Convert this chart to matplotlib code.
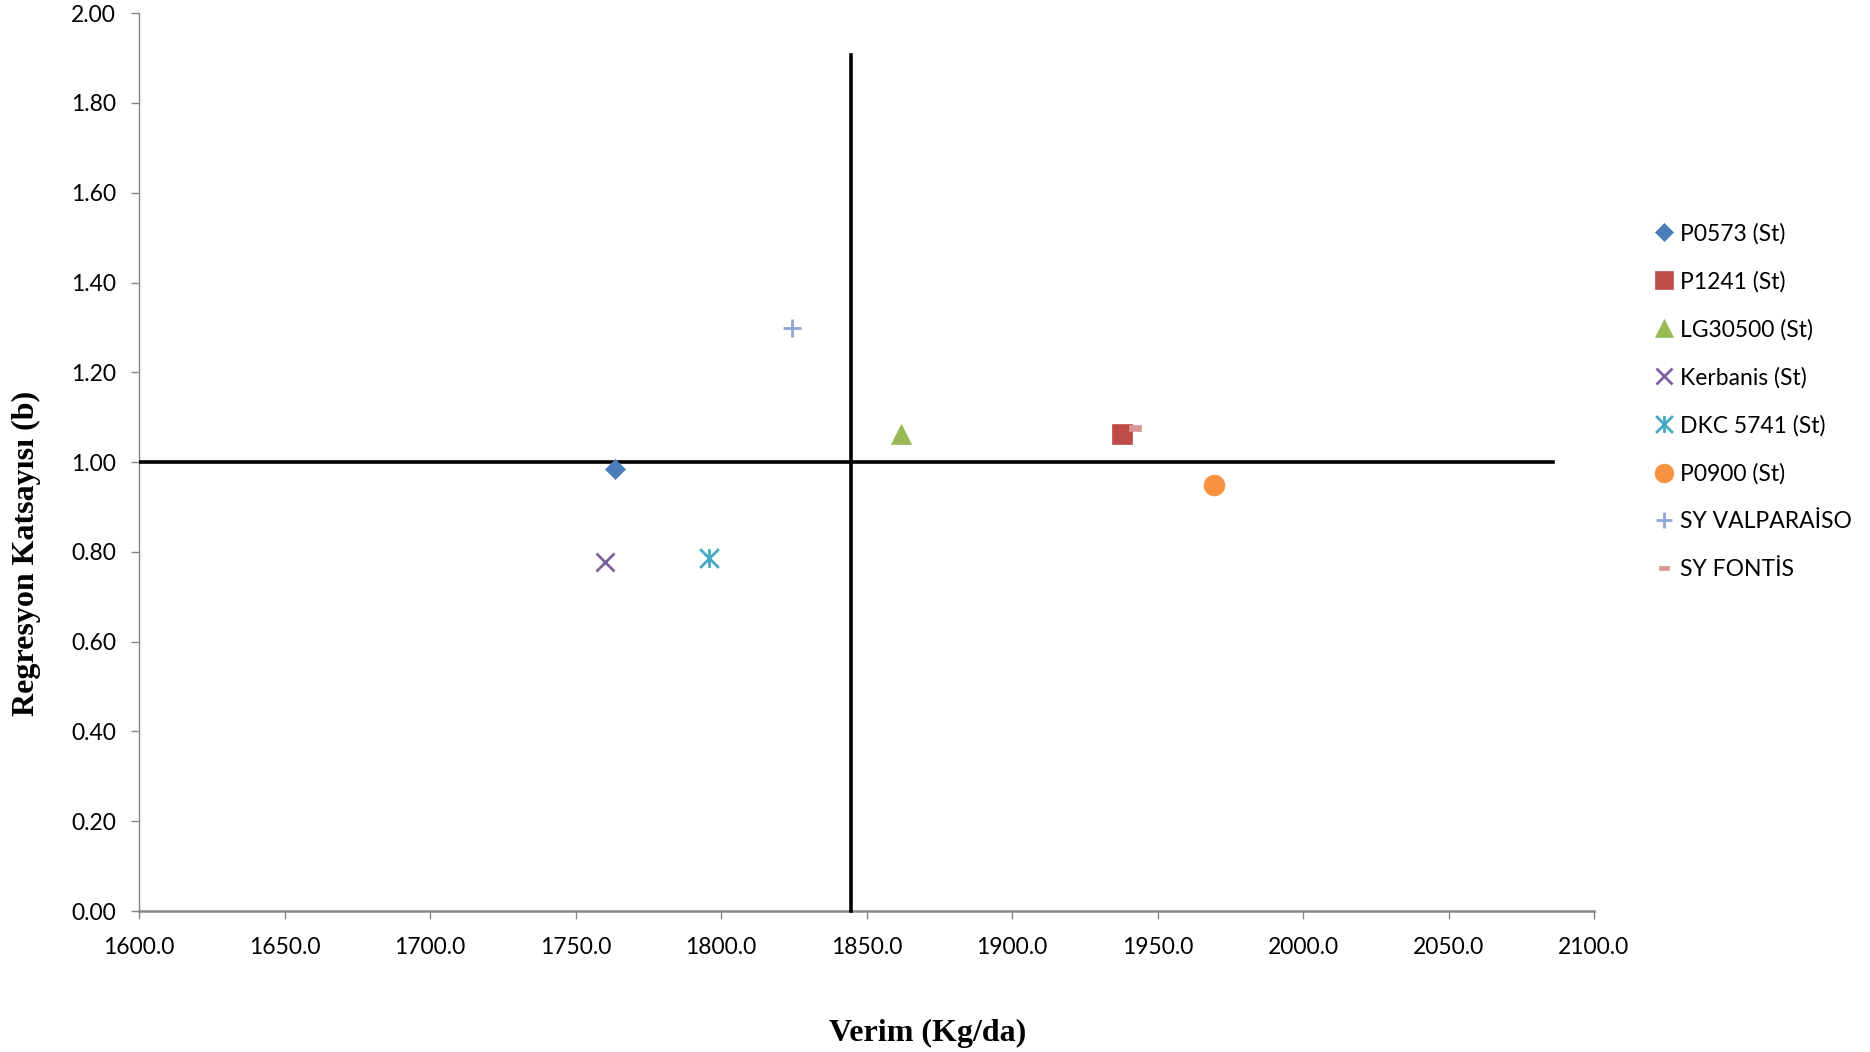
import matplotlib
matplotlib.use('Agg')
import matplotlib.pyplot as plt
from matplotlib.path import Path

# Datos
genotipos = ['P0573 (St)', 'P1241 (St)', 'LG30500 (St)', 'Kerbanis (St)',
             'DKC 5741 (St)', 'P0900 (St)', 'SY VALPARAİSO', 'SY FONTİS']
verim = [1763.4, 1937.8, 1861.7, 1760.1, 1795.7, 1969.4, 1824.4, 1942.3]
regresyon_b = [0.985, 1.062, 1.062, 0.778, 0.786, 0.948, 1.299, 1.076]

# Líneas de referencia (media del verim y b = 1)
media_verim = 1844.5
linea_v_y = [0.0, 1.907]
linea_h_x = [1600.0, 2086.0]
linea_h_y = 1.0

colores = ['#4A7EBB', '#BE4B48', '#98B954', '#7D60A0',
           '#46AAC5', '#F69240', '#8EA5D5', '#DA9694']

# Marcadores tipo Excel
estrella = Path([(0, -1), (0, 1), (-1, -1), (1, 1), (-1, 1), (1, -1)],
                [Path.MOVETO, Path.LINETO, Path.MOVETO, Path.LINETO,
                 Path.MOVETO, Path.LINETO])
guion = Path([(-1, -0.45), (1, -0.45), (1, 0.45), (-1, 0.45), (-1, -0.45)],
             [Path.MOVETO, Path.LINETO, Path.LINETO, Path.LINETO, Path.CLOSEPOLY])
marcadores = ['D', 's', '^', 'x', estrella, 'o', '+', guion]
tamanos = [10.5, 15, 14.5, 13, 13.5, 15, 13, 8.5]
rellenos = [True, True, True, False, False, True, False, True]

fig = plt.figure(figsize=(18.7, 10.52), dpi=100)
ax = fig.add_axes([0.0744, 0.134, 0.778, 0.8535])

for g, x, y, c, m, s, f in zip(genotipos, verim, regresyon_b, colores,
                               marcadores, tamanos, rellenos):
    ax.plot([x], [y], linestyle='none', marker=m, markersize=s,
            color=c, markeredgecolor=c, markeredgewidth=2 if not f else 0.5,
            label=g, zorder=4)

ax.plot([media_verim, media_verim], linea_v_y, color='black', lw=2.6,
        zorder=3, clip_on=False)
ax.plot(linea_h_x, [linea_h_y, linea_h_y], color='black', lw=2.6, zorder=3)

ax.set_xlim(1600, 2100)
ax.set_ylim(0, 2.0)
ax.set_xticks([1600 + 50 * i for i in range(11)])
ax.set_yticks([0.2 * i for i in range(11)])
ax.set_xticklabels([f'{1600 + 50 * i:.1f}' for i in range(11)])
ax.set_yticklabels([f'{0.2 * i:.2f}' for i in range(11)])

for lado in ['top', 'right']:
    ax.spines[lado].set_visible(False)
ax.spines['left'].set_color('#868686')
ax.spines['bottom'].set_color('#868686')
ax.spines['left'].set_linewidth(1.0)
ax.spines['bottom'].set_linewidth(1.8)

ax.tick_params(axis='both', direction='out', length=6, width=1,
               color='#868686', labelsize=16.5, labelcolor='black')
ax.tick_params(axis='x', pad=13)
ax.tick_params(axis='y', pad=10.5)
for t in ax.get_xticklabels() + ax.get_yticklabels():
    t.set_fontfamily('Lato')

fig.text(0.496, 0.018, 'Verim (Kg/da)', ha='center', va='center',
         fontsize=23, fontweight='bold', family='Liberation Serif')
fig.text(0.0141, 0.474, 'Regresyon Katsayısı (b)', ha='center', va='center',
         rotation=90, fontsize=23, fontweight='bold', family='Liberation Serif')

leg = ax.legend(loc='upper left', bbox_to_anchor=(0.874, 0.808),
                bbox_transform=fig.transFigure, frameon=False, numpoints=1,
                handlelength=0.8, handletextpad=0.3, labelspacing=1.16,
                markerscale=0.9, prop={'family': 'Lato', 'size': 16.5})

fig.savefig('out.png', dpi=100)
